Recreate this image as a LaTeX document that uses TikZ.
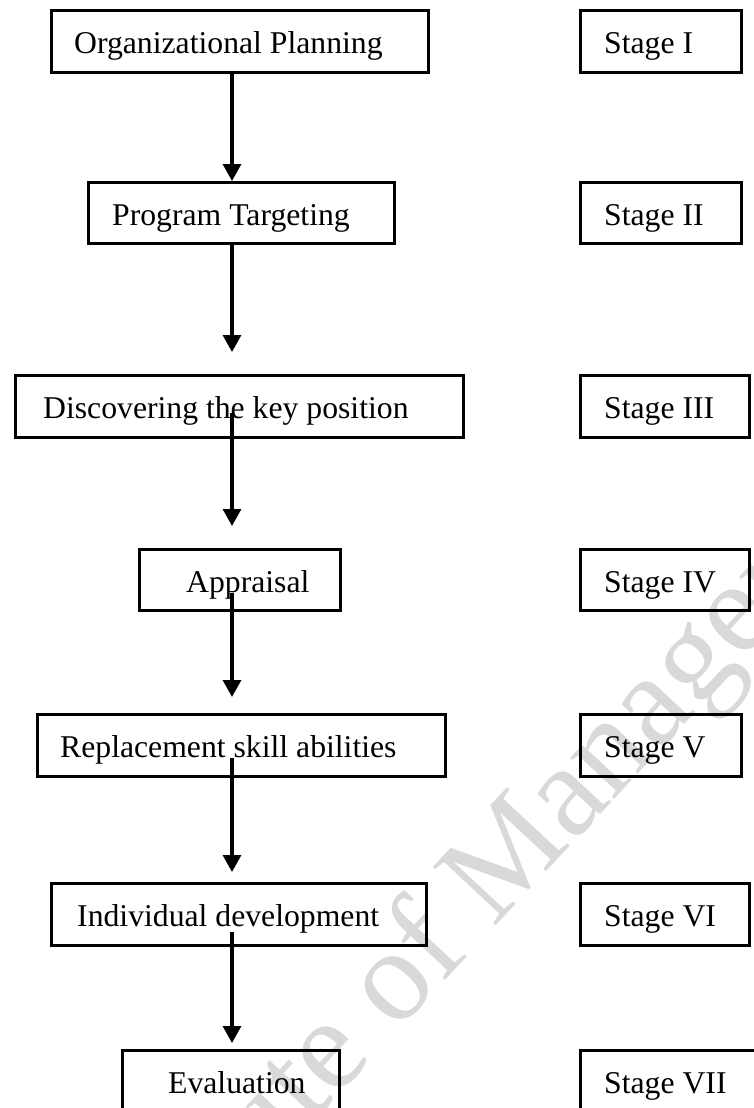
\documentclass[tikz,border=0pt]{standalone}
\usepackage{fontspec}
\setmainfont{Liberation Serif}
\usetikzlibrary{arrows.meta,calc}

\tikzset{
  box/.style={draw, line width=2.8pt, inner sep=0pt, anchor=north west},
  lbl/.style={inner sep=0pt, anchor=base west, font=\fontsize{31.7pt}{38pt}\selectfont},
  flow/.style={line width=3.2pt, -{Triangle[width=18pt,length=17pt]}},
  wm/.style={inner sep=0pt, text=black!15, font=\fontsize{131pt}{150pt}\selectfont, rotate=47}
}

\begin{document}
\begin{tikzpicture}[x=1pt,y=-1pt]
\clip (0,0) rectangle (754,1108);
\fill[white] (0,0) rectangle (754,1108);

% faint background watermark
\node[wm, anchor=base west] (wmb) at (310,1126) {te of Management};
\node[wm, anchor=base east] (wma) at (310,1126) {Institu};

% process steps (left column)
\node[box, minimum width=377pt, minimum height=62pt] (n1) at (50,9) {};
\node[box, minimum width=306pt, minimum height=61pt] (n2) at (87,181) {};
\node[box, minimum width=448pt, minimum height=62pt] (n3) at (14,374) {};
\node[box, minimum width=201pt, minimum height=61pt] (n4) at (138,548) {};
\node[box, minimum width=408pt, minimum height=62pt] (n5) at (36,713) {};
\node[box, minimum width=375pt, minimum height=62pt] (n6) at (50,882) {};
\node[box, minimum width=217pt, minimum height=70pt] (n7) at (121,1049) {};

\node[lbl] (t1) at (74,53)   {Organizational Planning};
\node[lbl] (t2) at (112,225) {Program Targeting};
\node[lbl] (t3) at (43,418)  {Discovering the key position};
\node[lbl] (t4) at (186,592) {Appraisal};
\node[lbl] (t5) at (60,757)  {Replacement skill abilities};
\node[lbl] (t6) at (77,926)  {Individual development};
\node[lbl] (t7) at (168,1093) {Evaluation};

% stage labels (right column)
\node[box, minimum width=161pt, minimum height=62pt] (s1) at (579,9) {};
\node[box, minimum width=161pt, minimum height=61pt] (s2) at (579,181) {};
\node[box, minimum width=169pt, minimum height=62pt] (s3) at (579,374) {};
\node[box, minimum width=169pt, minimum height=61pt] (s4) at (579,548) {};
\node[box, minimum width=161pt, minimum height=62pt] (s5) at (579,713) {};
\node[box, minimum width=169pt, minimum height=62pt] (s6) at (579,882) {};
\node[box, minimum width=185pt, minimum height=70pt] (s7) at (579,1049) {};

\node[lbl] (u1) at (604,53)   {Stage I};
\node[lbl] (u2) at (604,225)  {Stage II};
\node[lbl] (u3) at (604,418)  {Stage III};
\node[lbl] (u4) at (604,592)  {Stage IV};
\node[lbl] (u5) at (604,757)  {Stage V};
\node[lbl] (u6) at (604,926)  {Stage VI};
\node[lbl] (u7) at (604,1093) {Stage VII};

% connectors
\coordinate (axis) at (232,0);
\draw[flow] ($(n1.south -| axis)+(0,-3)$) -- (n2.north -| axis);
\draw[flow] (n2.south -| axis) -- ($(n3.north -| axis)+(0,-22)$);
\draw[flow] ($(t3.base -| axis)+(0,-5)$) -- ($(n4.north -| axis)+(0,-22)$);
\draw[flow] ($(t4.base -| axis)+(0,1)$) -- ($(n5.north -| axis)+(0,-16)$);
\draw[flow] ($(t5.base -| axis)+(0,1)$) -- ($(n6.north -| axis)+(0,-10)$);
\draw[flow] ($(t6.base -| axis)+(0,6)$) -- ($(n7.north -| axis)+(0,-6)$);
\end{tikzpicture}
\end{document}
